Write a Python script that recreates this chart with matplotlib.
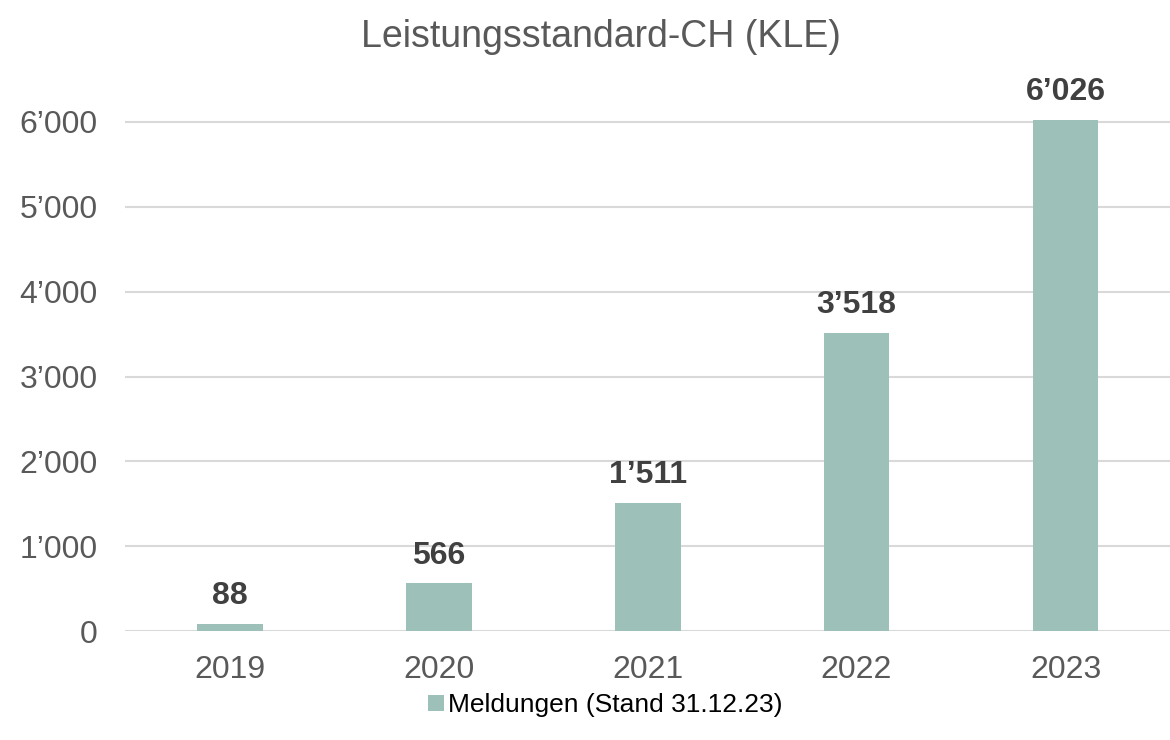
import matplotlib
matplotlib.use("Agg")
import matplotlib.pyplot as plt
import matplotlib.ticker as mticker

plt.rcParams['font.family'] = ['Liberation Sans', 'DejaVu Sans']

years = ["2019", "2020", "2021", "2022", "2023"]
meldungen = [88, 566, 1511, 3518, 6026]
y_ticks = [0, 1000, 2000, 3000, 4000, 5000, 6000]


def swiss(v):
    return f"{int(v):,}".replace(",", "\u2019")


bar_color = "#9DC0B9"
grey = "#595959"

fig = plt.figure(figsize=(11.7, 7.4), dpi=100)
ax = fig.add_axes([0.107, 0.147, 0.893, 0.803])

x = range(len(years))
bars = ax.bar(x, meldungen, width=0.315, color=bar_color,
              label="Meldungen (Stand 31.12.23)", zorder=2)

for xi, v in zip(x, meldungen):
    ax.annotate(swiss(v), (xi, v), xytext=(0, 9), textcoords="offset points",
                ha="center", va="bottom", fontsize=23, fontweight="bold",
                color="#404040")

ax.set_xlim(-0.5, len(years) - 0.5)
ax.set_ylim(0, 7000)
ax.set_yticks(y_ticks)
ax.yaxis.set_major_formatter(mticker.FuncFormatter(lambda v, p: swiss(v)))
ax.set_xticks(list(x))
ax.set_xticklabels(years)
ax.tick_params(axis="both", length=0, labelsize=23, labelcolor=grey)
ax.tick_params(axis="x", pad=17)
ax.tick_params(axis="y", pad=20)
ax.grid(axis="y", color="#D9D9D9", linewidth=1.5, zorder=0)
ax.set_axisbelow(True)
for s in ax.spines.values():
    s.set_visible(False)

fig.text(0.514, 0.95, "Leistungsstandard-CH (KLE)", ha="center", va="center",
         fontsize=27, color=grey)

leg = fig.legend(loc="center", bbox_to_anchor=(0.517, 0.047), frameon=False,
                 fontsize=19, handlelength=0.6, handleheight=0.6,
                 handletextpad=0.15)
for t in leg.get_texts():
    t.set_color("#000000")

fig.savefig("out.png", dpi=100)
